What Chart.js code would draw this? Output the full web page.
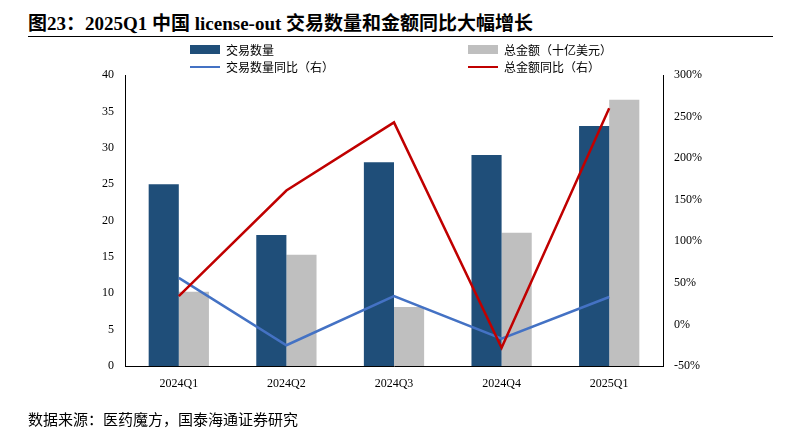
<!DOCTYPE html>
<html><head><meta charset="utf-8">
<script src="https://cdn.jsdelivr.net/npm/chart.js@4"></script>
<style>
body{margin:0;width:801px;height:441px;position:relative;background:#fff;font-family:"Liberation Serif","Noto Sans CJK SC",serif;}
#title{position:absolute;left:28px;top:8px;font-size:19px;font-weight:bold;color:#000;}
#rule{position:absolute;left:28px;top:36px;width:745px;border-top:1.5px solid #000;}
#src{position:absolute;left:28px;top:408px;font-size:15px;color:#000;}
.lg{position:absolute;font-size:12px;font-family:"Noto Sans CJK SC",sans-serif;display:flex;align-items:center;}
.lg i{display:inline-block;margin-right:6px;}
canvas{position:absolute;left:0;top:0;}
</style></head><body>
<div id="title">图23：2025Q1 中国 license-out 交易数量和金额同比大幅增长</div>
<div id="rule"></div>
<canvas id="c" width="801" height="441"></canvas>
<div class="lg" style="left:190px;top:41px"><i style="width:30px;height:9px;background:#1f4e79"></i>交易数量</div>
<div class="lg" style="left:468px;top:41px"><i style="width:30px;height:9px;background:#bfbfbf"></i>总金额（十亿美元）</div>
<div class="lg" style="left:190px;top:58px"><i style="width:30px;height:2px;background:#4472c4"></i>交易数量同比（右）</div>
<div class="lg" style="left:468px;top:58px"><i style="width:30px;height:2px;background:#c00000"></i>总金额同比（右）</div>
<div id="src">数据来源：医药魔方，国泰海通证券研究</div>
<script>
const categories = ['2024Q1','2024Q2','2024Q3','2024Q4','2025Q1'];
const dealCount = [25, 18, 28, 29, 33];
const totalAmount = [10.2, 15.3, 8.1, 18.3, 36.6];
const dealCountYoY = [56, -25, 34, -17, 33];
const amountYoY = [34, 161, 243, -28, 260];

const tickFont = {family:'"Liberation Serif",serif', size:12};
new Chart(document.getElementById('c'), {
  data: {
    labels: categories,
    datasets: [
      {type:'line', data:dealCountYoY, yAxisID:'y2', borderColor:'#4472c4', borderWidth:2.5, pointRadius:0, order:1},
      {type:'line', data:amountYoY, yAxisID:'y2', borderColor:'#c00000', borderWidth:2.5, pointRadius:0, order:0},
      {type:'bar', data:dealCount, yAxisID:'y', backgroundColor:'#1f4e79', categoryPercentage:0.56, barPercentage:1, order:3},
      {type:'bar', data:totalAmount, yAxisID:'y', backgroundColor:'#bfbfbf', categoryPercentage:0.56, barPercentage:1, order:3}
    ]
  },
  options: {
    responsive:false, animation:false,
    layout:{padding:{top:75,left:0,right:0,bottom:0}},
    plugins:{legend:{display:false}, tooltip:{enabled:false}},
    scales:{
      x:{grid:{display:false, drawTicks:true}, border:{color:'#000'}, ticks:{color:'#000', font:tickFont},
         afterFit:s=>{s.height=75;}},
      y:{position:'left', min:0, max:40, ticks:{stepSize:5, color:'#000', font:tickFont},
         grid:{display:false}, border:{color:'#000'}, afterFit:s=>{s.width=125;}},
      y2:{position:'right', min:-50, max:300, ticks:{stepSize:50, color:'#000', font:tickFont, callback:v=>v+'%'},
         grid:{display:false}, border:{color:'#000'}, afterFit:s=>{s.width=138;}}
    }
  }
});
</script>
</body></html>
